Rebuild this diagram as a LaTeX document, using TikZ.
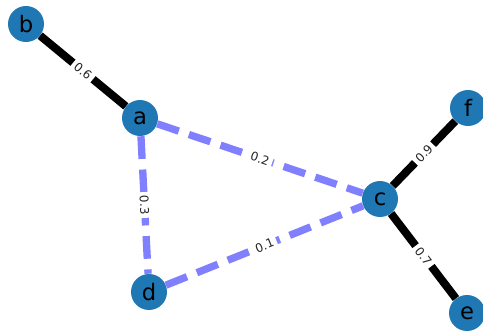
\documentclass[tikz,border=0pt]{standalone}
\usepackage{fontspec}
\setmainfont{DejaVu Sans}
\usetikzlibrary{backgrounds}
\definecolor{nodeblue}{RGB}{31,119,180}
\definecolor{edgeblue}{RGB}{128,128,255}
\tikzset{
  vertex/.style={circle, fill=nodeblue, minimum size=27pt, inner sep=0pt,
    font=\fontsize{17}{17}\selectfont},
  strong/.style={line width=6pt, black},
  weak/.style={line width=5.5pt, edgeblue, dash pattern=on 17pt off 8pt},
  weight/.style={fill=white, inner xsep=2.5pt, inner ysep=1pt, sloped,
    font=\fontsize{9}{9}\selectfont, text=black!85}
}
\begin{document}
\begin{tikzpicture}[x=0.75pt,y=0.75pt]
\useasboundingbox (0,0) rectangle (483,333);

% Nodes
\node[vertex] (b) at (26,309) {b};
\node[vertex] (a) at (140,215) {a};
\node[vertex] (c) at (380,134) {c};
\node[vertex] (f) at (468,225) {f};
\node[vertex] (e) at (467,20) {e};
\node[vertex] (d) at (149,41) {d};

% Edges
\begin{scope}[on background layer]
\draw[strong] (b) -- node[weight] {0.6} (a);
\draw[strong] (c) -- node[weight] {0.9} (f);
\draw[strong] (c) -- node[weight] {0.7} (e);
\draw[weak] (a) -- node[weight] {0.2} (c);
\draw[weak] (a) -- node[weight] {0.3} (d);
\draw[weak] (d) -- node[weight] {0.1} (c);
\end{scope}
\end{tikzpicture}
\end{document}
